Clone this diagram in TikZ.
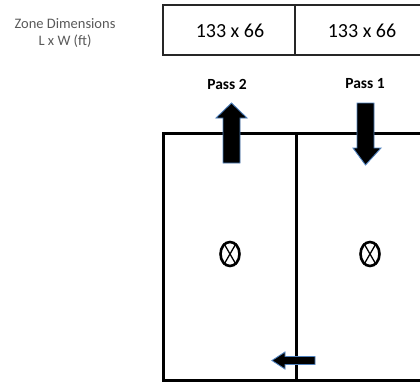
\documentclass[tikz,border=0pt]{standalone}
\usepackage{fontspec}
\setmainfont{Carlito}
\usetikzlibrary{shapes.geometric}
\definecolor{glow}{HTML}{4F81BD}
\definecolor{labgray}{HTML}{595959}
\begin{document}
\begin{tikzpicture}[x=1pt,y=-1pt,
  dimtext/.style={font=\fontsize{20}{22}\selectfont},
  passlabel/.style={font=\bfseries\fontsize{15.5}{17}\selectfont},
  zonelabel/.style={font=\fontsize{14.5}{17}\selectfont,text=labgray,align=center},
  tableline/.style={draw=black!85,line width=1.1pt},
  wall/.style={draw=black,line width=3pt},
  flowarrow/.style={fill=black,draw=glow,line width=0.9pt,line join=miter},
  sensor/.style={draw=black,line width=2.6pt,ellipse,minimum width=19pt,minimum height=24pt,inner sep=0pt}
]
\useasboundingbox (0,0) rectangle (420,383);
\clip (0,0) rectangle (420,383);
% left labels
\node[zonelabel] (zl) at (65,33) {Zone Dimensions\\L x W (ft)};
% dimension table
\draw[tableline] (163,5) rectangle (440,55);
\draw[tableline] (295,5) -- (295,55);
\node[dimtext] (d2) at (230,31) {133 x 66};
\node[dimtext] (d1) at (362,31) {133 x 66};
% pass labels
\node[passlabel] (p2) at (227,84) {Pass 2};
\node[passlabel] (p1) at (365,84) {Pass 1};
% zone walls
\draw[wall] (163,133) rectangle (440,380);
\draw[wall] (296,133) -- (296,380);
% arrows
\draw[flowarrow] (231.5,103) -- (247,118) -- (240,118) -- (240,163) -- (223,163) -- (223,118) -- (216,118) -- cycle;
\draw[flowarrow] (357,103) -- (374,103) -- (374,148) -- (381,148) -- (365.5,165) -- (353,148) -- (357,148) -- cycle;
\draw[flowarrow] (272,360.5) -- (285,352) -- (285,356.5) -- (315,356.5) -- (315,364.5) -- (285,364.5) -- (285,369) -- cycle;
% sensors
\foreach \n/\xx in {s2/230,s1/370}{
  \node[sensor] (\n) at (\xx,254) {};
  \draw[line width=1.3pt] (\n.120) -- (\n.-60) (\n.60) -- (\n.-120);
}
\end{tikzpicture}
\end{document}
